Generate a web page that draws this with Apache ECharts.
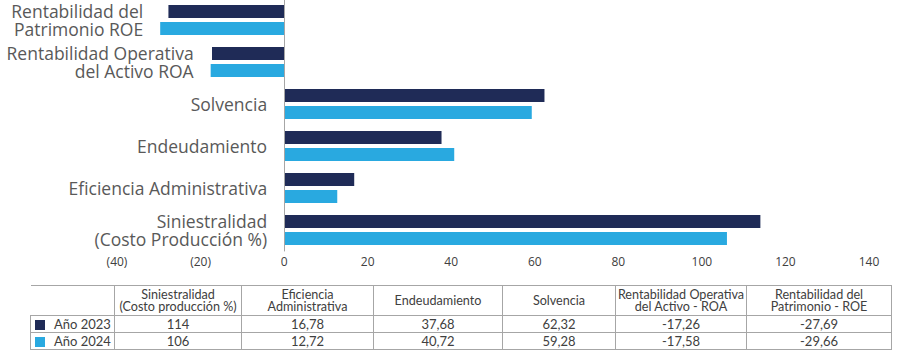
<!DOCTYPE html>
<html>
<head>
<meta charset="utf-8">
<script src="https://cdn.jsdelivr.net/npm/echarts@6/dist/echarts.min.js"></script>
<style>
  html, body { margin: 0; padding: 0; background: #fff; }
  #wrap { position: relative; width: 900px; height: 358px; overflow: hidden; }
  #chart { position: absolute; left: 0; top: 0; width: 900px; height: 358px; }
  #tbl { position: absolute; left: 30px; top: 285px; border-collapse: collapse; table-layout: fixed;
         font-family: Lato, "Open Sans", sans-serif; color: #404040; }
  #tbl td { border: 1px solid #a6a6a6; text-align: center; padding: 0; white-space: pre-line; }
  #tbl tr.head td { height: 29px; font-size: 12.6px; line-height: 12px; vertical-align: middle; }
  #tbl tr.row td { height: 16px; font-size: 13px; line-height: 14px; }
  #tbl td.corner { border-left: none; }
  #tbl td.lab { text-align: left; padding-left: 4px; }
  .sw { display: inline-block; width: 10px; height: 10px; margin-right: 9px; vertical-align: -1px; }
</style>
</head>
<body>
<div id="wrap">
  <div id="chart"></div>
  <table id="tbl"></table>
</div>
<script>
// ---- data ----
const axisCategories = ['Siniestralidad\n(Costo Producción %)', 'Eficiencia Administrativa', 'Endeudamiento', 'Solvencia', 'Rentabilidad Operativa\ndel Activo ROA', 'Rentabilidad del\nPatrimonio ROE'];
const tableHeaders = ['Siniestralidad\n(Costo producción %)', 'Eficiencia\nAdministrativa', 'Endeudamiento', 'Solvencia', 'Rentabilidad Operativa\ndel Activo - ROA', 'Rentabilidad del\nPatrimonio - ROE'];
const seriesNames = ['Año 2023', 'Año 2024'];
const values2023 = [114, 16.78, 37.68, 62.32, -17.26, -27.69];
const values2024 = [106, 12.72, 40.72, 59.28, -17.58, -29.66];
const colors = ['#1f2b57', '#29a9e0'];

function fmt(v) { return Number.isInteger(v) ? String(v) : v.toFixed(2).replace('.', ','); }

// ---- table ----
const colWidths = [84, 127, 132, 129, 113, 131, 145];
const tbl = document.getElementById('tbl');
const cg = document.createElement('colgroup');
colWidths.forEach(w => { const c = document.createElement('col'); c.style.width = w + 'px'; cg.appendChild(c); });
tbl.appendChild(cg);
const head = document.createElement('tr'); head.className = 'head';
const corner = document.createElement('td'); corner.className = 'corner'; head.appendChild(corner);
tableHeaders.forEach(h => { const td = document.createElement('td'); td.textContent = h; head.appendChild(td); });
tbl.appendChild(head);
[values2023, values2024].forEach((vals, i) => {
  const tr = document.createElement('tr'); tr.className = 'row';
  const lab = document.createElement('td'); lab.className = 'lab';
  const sw = document.createElement('span'); sw.className = 'sw'; sw.style.background = colors[i];
  lab.appendChild(sw); lab.appendChild(document.createTextNode(seriesNames[i]));
  tr.appendChild(lab);
  vals.forEach(v => { const td = document.createElement('td'); td.textContent = fmt(v); tr.appendChild(td); });
  tbl.appendChild(tr);
});

// ---- chart ----
const chart = echarts.init(document.getElementById('chart'), null, { renderer: 'svg' });
const labelBase = { fontSize: 17.5, lineHeight: 18, color: '#595959', fontFamily: '"Open Sans", Lato, sans-serif' };
chart.setOption({
  animation: false,
  textStyle: { fontFamily: '"Open Sans", Lato, sans-serif' },
  grid: { left: 117, right: 31, top: -1, height: 252, containLabel: false, outerBoundsMode: 'none' },
  xAxis: {
    type: 'value', min: -40, max: 140, interval: 20,
    axisLine: { show: false }, axisTick: { show: false }, splitLine: { show: false },
    axisLabel: {
      margin: 4, fontSize: 12, color: '#404040',
      fontFamily: '"Liberation Sans Narrow", "Open Sans", sans-serif',
      formatter: v => v < 0 ? '(' + Math.abs(v) + ')' : String(v)
    }
  },
  yAxis: {
    type: 'category', data: axisCategories, z: 5,
    axisLine: { show: true, onZero: true, lineStyle: { color: '#a6a6a6', width: 1 } },
    axisTick: { show: false },
    axisLabel: Object.assign({ margin: -150, align: 'right' }, labelBase)
  },
  series: [
    { name: seriesNames[0], type: 'bar', data: values2023, barWidth: 13, barGap: '30%', itemStyle: { color: colors[0] } },
    { name: seriesNames[1], type: 'bar', data: values2024, barWidth: 13, barGap: '30%', itemStyle: { color: colors[1] } }
  ]
});

// place labels of negative categories to the left of their bars (through the axis scale)
const zeroPx = chart.convertToPixel({ xAxisIndex: 0 }, 0);
const leftEdge = chart.convertToPixel({ xAxisIndex: 0 }, -40);
const rich = {};
axisCategories.forEach((c, i) => {
  const minV = Math.min(0, values2023[i], values2024[i]);
  const shift = zeroPx - chart.convertToPixel({ xAxisIndex: 0 }, minV);
  rich['c' + i] = Object.assign({ padding: [0, shift, 0, 0], align: 'right' }, labelBase);
});
chart.setOption({
  yAxis: {
    axisLabel: {
      margin: -(zeroPx - leftEdge - 17),
      rich: rich,
      formatter: (value, index) => value.split('\n').map(l => '{c' + index + '|' + l + '}').join('\n')
    }
  }
});
</script>
</body>
</html>
